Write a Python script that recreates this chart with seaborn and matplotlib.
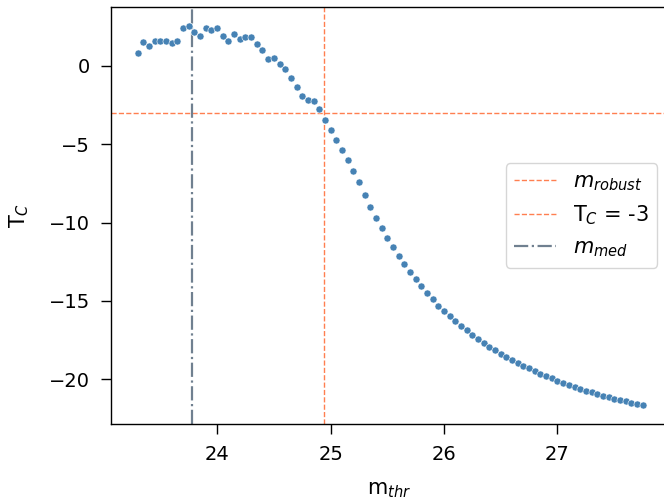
import numpy as np
import pandas as pd
import matplotlib
matplotlib.use("Agg")
import matplotlib.pyplot as plt
import seaborn as sns

m_thr = [round(23.3 + 0.05 * i, 2) for i in range(90)]
T_C = [
    0.83, 1.49, 1.27, 1.57, 1.57, 1.59, 1.43, 1.59, 2.42, 2.55,
    2.13, 1.91, 2.38, 2.27, 2.38, 1.89, 1.59, 2.02, 1.72, 1.83,
    1.81, 1.36, 0.98, 0.45, 0.51, 0.13, -0.23, -0.78, -1.36, -1.91,
    -2.18, -2.25, -2.76, -3.46, -4.11, -4.71, -5.37, -6.03, -6.73, -7.43,
    -8.22, -9.02, -9.68, -10.34, -10.97, -11.55, -12.12, -12.65, -13.14, -13.59,
    -14.04, -14.52, -14.90, -15.29, -15.64, -15.96, -16.28, -16.58, -16.88, -17.15,
    -17.41, -17.66, -17.92, -18.15, -18.36, -18.57, -18.76, -18.96, -19.13, -19.30,
    -19.47, -19.64, -19.78, -19.94, -20.08, -20.21, -20.34, -20.46, -20.61, -20.72,
    -20.83, -20.93, -21.04, -21.15, -21.23, -21.31, -21.40, -21.48, -21.57, -21.66,
]
m_robust = 24.94
T_C_cut = -3
m_med = 23.78

df = pd.DataFrame({"m_thr": m_thr, "T_C": T_C})

fig = plt.figure(figsize=(6.64, 5.0), dpi=100)
ax = fig.add_axes([0.1672, 0.1514, 0.8373, 0.8352])

ax.axvline(m_robust, color="coral", ls="--", lw=1.0, label=r"$m_{robust}$")
ax.axhline(T_C_cut, color="coral", ls="--", lw=1.0, label=r"T$_C$ = -3")
ax.axvline(m_med, color="slategray", ls="-.", lw=1.6, label=r"$m_{med}$")
sns.scatterplot(data=df, x="m_thr", y="T_C", color="steelblue", s=26,
                edgecolor="white", linewidth=0.4, zorder=3, ax=ax)

ax.set_xlim(23.065, 27.965)
ax.set_ylim(-22.865, 3.765)
ax.set_xticks([24, 25, 26, 27])
ax.set_yticks([0, -5, -10, -15, -20])
ax.tick_params(labelsize=14, length=7.2, width=1.0, pad=8)
for sp in ax.spines.values():
    sp.set_linewidth(1.0)
ax.spines["right"].set_visible(False)
ax.set_xlabel(r"m$_{thr}$", fontsize=15, labelpad=11)
ax.set_ylabel(r"T$_C$", fontsize=15, labelpad=12.5)

ax.legend(loc="center right", bbox_to_anchor=(0.9815, 0.5), borderaxespad=0,
          fontsize=15, frameon=True)

fig.savefig("out.png", dpi=100)
